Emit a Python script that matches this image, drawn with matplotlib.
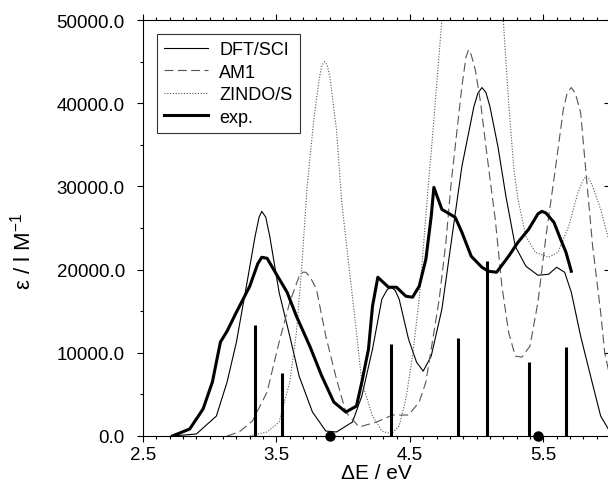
import matplotlib
matplotlib.use("Agg")
import matplotlib.pyplot as plt
from matplotlib.ticker import MultipleLocator, FixedLocator, FormatStrFormatter

plt.rcParams["font.family"] = ["Liberation Sans", "DejaVu Sans"]
plt.rcParams["mathtext.fontset"] = "custom"
plt.rcParams["mathtext.rm"] = "Liberation Sans"

# DFT/SCI simulated spectrum
dft_x = [2.72, 2.90, 3.05, 3.13, 3.20, 3.28, 3.34, 3.37, 3.39, 3.42, 3.45, 3.52, 3.60, 3.67,
         3.77, 3.87, 3.95, 4.07, 4.14, 4.22, 4.29, 4.33, 4.36, 4.39, 4.42, 4.49, 4.55, 4.60,
         4.66, 4.74, 4.81, 4.89, 4.92, 4.98, 5.01, 5.04, 5.07, 5.10, 5.16, 5.22, 5.29, 5.37,
         5.46, 5.54, 5.60, 5.66, 5.71, 5.78, 5.86, 5.93, 6.00]
dft_y = [0, 240, 2400, 6480, 11280, 18480, 24000, 26300, 27000, 26300, 24000, 17280, 12000, 7200,
         2880, 600, 480, 1680, 4800, 10440, 16440, 17600, 17880, 17500, 16440, 11640, 8880, 7800,
         9600, 15240, 23280, 32400, 34800, 39600, 41200, 41880, 41300, 39600, 34800, 28800, 22800, 20400,
         19320, 19440, 20280, 19680, 17280, 12000, 6840, 2400, 500]

# AM1 simulated spectrum
am1_x = [3.13, 3.22, 3.32, 3.43, 3.52, 3.60, 3.67, 3.70, 3.72, 3.75, 3.80, 3.87, 3.95, 4.02,
         4.12, 4.25, 4.37, 4.49, 4.57, 4.62, 4.66, 4.72, 4.77, 4.81, 4.84, 4.89,
         4.92, 4.94, 4.96, 4.99, 5.03, 5.07, 5.10, 5.14, 5.19, 5.24, 5.29, 5.34, 5.40, 5.46,
         5.52, 5.59, 5.65, 5.68, 5.71, 5.74, 5.78, 5.82, 5.87, 5.93, 5.96, 6.00]
am1_y = [0, 480, 1800, 5280, 11280, 16080, 19200, 19700, 19680, 19200, 17640, 12000, 6840, 2880,
         1080, 1680, 2520, 2520, 4080, 6480, 10440, 16440, 23280, 30480, 34800, 42000,
         45500, 46440, 45800, 44040, 40080, 34800, 31000, 26040, 18000, 12480, 9600, 9480, 10800, 16080,
         24000, 32040, 39240, 41300, 41880, 41200, 38880, 31680, 22800, 14880, 10080, 7000]

# ZINDO/S simulated spectrum
zin_x = [3.30, 3.43, 3.52, 3.60, 3.65, 3.69, 3.73, 3.78, 3.82, 3.84, 3.86, 3.88, 3.90, 3.95,
         3.99, 4.05, 4.10, 4.14, 4.22, 4.29, 4.36, 4.42, 4.47, 4.52, 4.57, 4.60,
         4.64, 4.66, 4.70, 4.74, 4.82, 4.97, 5.12, 5.20, 5.24, 5.28, 5.31, 5.37,
         5.44, 5.54, 5.61, 5.69, 5.76, 5.80, 5.82, 5.84, 5.87, 5.93, 6.00]
zin_y = [0, 480, 1680, 6480, 12480, 20400, 30000, 38040, 42840, 44500, 45000, 44600, 43200, 36840,
         28000, 19500, 12480, 6480, 2400, 600, 240, 1200, 4440, 9600, 16440, 22440,
         30480, 34080, 42000, 50040, 62000, 68000, 60000, 50040, 40080, 32040, 28440, 24000,
         22080, 21480, 22080, 25200, 29280, 30800, 31200, 31000, 30000, 27240, 23000]

# experimental spectrum
exp_x = [2.72, 2.85, 2.95, 3.02, 3.08, 3.13, 3.20, 3.30, 3.36, 3.39, 3.43, 3.50, 3.58,
         3.65, 3.75, 3.84, 3.93, 4.02, 4.10, 4.14, 4.19, 4.22, 4.26, 4.34, 4.40,
         4.47, 4.52, 4.57, 4.62, 4.66, 4.68, 4.74, 4.84, 4.89, 4.96, 5.04, 5.09,
         5.15, 5.24, 5.31, 5.39, 5.46, 5.49, 5.52, 5.58, 5.63, 5.67, 5.71]
exp_y = [0, 840, 3240, 6480, 11280, 12600, 14880, 18000, 20700, 21480, 21360, 19440, 17280,
         14400, 10800, 7200, 4080, 2880, 3600, 6480, 10440, 15600, 19080, 17880, 17880,
         16800, 16680, 18000, 21240, 26400, 29880, 27240, 26280, 24480, 21600, 20280, 19800,
         19680, 21600, 23280, 24840, 26700, 27000, 26800, 25680, 23640, 22080, 19800]

# calculated transitions (sticks) and marked bands
stick_x = [3.34, 3.54, 4.36, 4.86, 5.08, 5.39, 5.67]
stick_y = [13300, 7560, 11000, 11720, 21040, 8840, 10720]
dot_x = [3.90, 5.46]

x_ticks = [2.5, 3.5, 4.5, 5.5]

fig = plt.figure(figsize=(6.08, 4.85), dpi=100)
ax = fig.add_axes([143 / 608, 48 / 485, 467 / 608, 416 / 485])

ax.plot(dft_x, dft_y, color="black", lw=0.8, label="DFT/SCI")
ax.plot(am1_x, am1_y, color="#555555", lw=0.8, dashes=(8, 4), label="AM1")
ax.plot(zin_x, zin_y, color="#555555", lw=0.8, linestyle=(0, (1, 1.5)), label="ZINDO/S")
ax.plot(exp_x, exp_y, color="black", lw=2.2, label="exp.")

ax.vlines(stick_x, 0, stick_y, color="black", lw=2.2)
ax.plot(dot_x, [0] * len(dot_x), "o", color="black", ms=6.5, clip_on=False, zorder=5)

ax.set_xlim(2.5, 6.0)
ax.set_ylim(0, 50000)

ax.xaxis.set_major_locator(FixedLocator(x_ticks))
ax.xaxis.set_major_formatter(FormatStrFormatter("%.1f"))
ax.xaxis.set_minor_locator(MultipleLocator(0.1))
ax.yaxis.set_major_locator(MultipleLocator(10000))
ax.yaxis.set_minor_locator(MultipleLocator(5000))
ax.yaxis.set_major_formatter(FormatStrFormatter("%.1f"))

ax.tick_params(axis="both", which="major", direction="out", length=4, width=0.8,
               labelsize=13.5, top=True, right=False)
ax.tick_params(axis="both", which="minor", direction="out", length=2.5, width=0.8,
               top=True, right=False)
ax.tick_params(axis="x", which="major", pad=3)
ax.tick_params(axis="y", which="major", pad=9)

sec = ax.secondary_yaxis("right")
sec.yaxis.set_major_locator(MultipleLocator(10000))
sec.tick_params(direction="in", length=4, width=0.8, labelright=False)

for s in ax.spines.values():
    s.set_linewidth(0.8)

ax.set_xlabel("ΔE / eV", fontsize=15)
ax.xaxis.set_label_coords(0.5, -0.066)
ax.set_ylabel("ε / l M$^{-1}$", fontsize=16)
ax.yaxis.set_label_coords(-0.231, 0.447)

leg = ax.legend(loc="upper left", bbox_to_anchor=(0.030, 0.966), borderaxespad=0,
                fontsize=13, handlelength=2.45, handletextpad=0.6, labelspacing=0.3,
                fancybox=False, frameon=True, edgecolor="black", borderpad=0.4)
leg.get_frame().set_linewidth(0.8)

fig.savefig("out.png", dpi=100)
